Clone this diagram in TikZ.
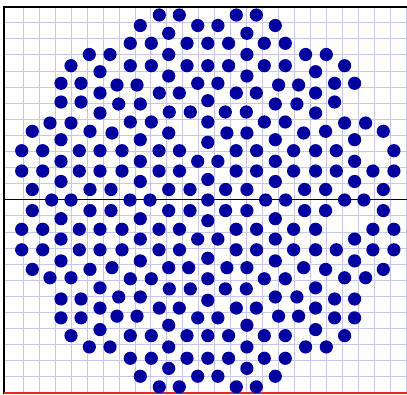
\documentclass[tikz,border=0pt]{standalone}
\definecolor{gridc}{RGB}{198,198,242}
\definecolor{dotc}{RGB}{0,0,158}
\definecolor{redc}{RGB}{228,40,40}
\newcommand\mydot[2]{\fill[dotc] ({#1},{#2}) circle (6.6);}
\begin{document}
\begin{tikzpicture}[x=1pt,y=-1pt]
\useasboundingbox (0,0) rectangle (407,394);
\fill[white] (0,0) rectangle (407,394);
% grid
\foreach \k in {1,...,25} \draw[gridc, line width=1pt] ({7.4+15.95*\k},6.6) -- ({7.4+15.95*\k},394);
\foreach \k in {1,...,23} \draw[gridc, line width=1pt] (4,{6.6+16.1*\k}) -- (407,{6.6+16.1*\k});
% frame lines
\draw[black, line width=2pt] (3,6.6) -- (407,6.6);
\draw[black, line width=2.4pt] (4,5.6) -- (4,394);
\draw[redc, line width=2.2pt] (4,393) -- (407,393);
\draw[black!80!blue, line width=1.3pt] (4,199.8) -- (407,199.8);
% dots present in all four quadrants
\foreach \x/\y in {159.3/15, 179.3/15, 140.3/25.5, 197.7/25.5, 168.7/33.3, 130.3/43.3, 151.3/43.3, 187/43.3,
  89.3/54.5, 110/54.5, 168.7/54.5, 71/65.7, 130.3/65.7, 151.3/65.7, 187/65.7, 100/71.7, 168.7/76,
  61/83.3, 81/83.3, 197.7/83.3, 117/85, 137/85, 100/93, 159.3/93, 179.3/93, 81/102, 118.7/104, 140.3/104,
  169.3/112, 190.3/112, 100/113, 130.3/122, 151.3/122, 50/123, 71/123, 32.3/131.3, 90/131.3, 112/133,
  168.7/133, 61/139.7, 140.3/139.7, 21.7/150.7, 79.3/150.7, 100/150.7, 122/150.7, 159/150.7, 179.5/150.7,
  61/161.3, 140.3/161.3, 197.7/161.3, 21.7/171, 42.7/171, 100/171, 122/171, 159/171, 179.5/171,
  140.3/181.5, 32.3/189.5, 90/189.5, 111/189.5, 168.7/189.5, 190/189.5}
{\mydot{\x}{\y}\mydot{415.6-\x}{\y}\mydot{\x}{402-1.01*\y}\mydot{415.6-\x}{402-1.01*\y}}
% missing in top-left only
\foreach \x/\y in {188.7/133}
{\mydot{415.6-\x}{\y}\mydot{\x}{402-1.01*\y}\mydot{415.6-\x}{402-1.01*\y}}
% missing in top-right only
\foreach \x/\y in {61/102, 42.7/150.7}
{\mydot{\x}{\y}\mydot{\x}{402-1.01*\y}\mydot{415.6-\x}{402-1.01*\y}}
% missing in bottom-right only
\foreach \x/\y in {61/181.5, 79.3/171}
{\mydot{\x}{\y}\mydot{415.6-\x}{\y}\mydot{\x}{402-1.01*\y}}
% vertical axis
\foreach \y in {43.3, 65.7, 100.7, 122, 142.3, 179.5}
{\mydot{207.8}{\y}\mydot{207.8}{402-1.01*\y}}
\mydot{207.8}{200}
% horizontal axis
\foreach \x in {51.7, 71, 130, 150}
{\mydot{\x}{200}\mydot{415.6-\x}{200}}
\end{tikzpicture}
\end{document}
